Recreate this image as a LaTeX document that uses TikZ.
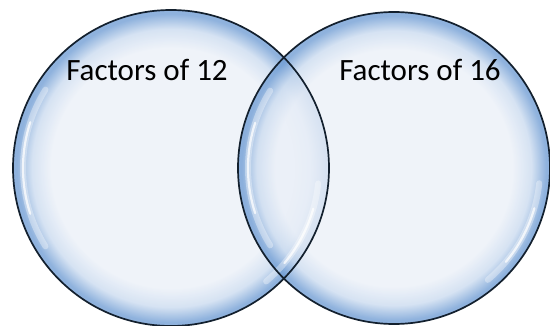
\documentclass[tikz,border=0pt]{standalone}
\usepackage{fontspec}
\setmainfont{Carlito}
\definecolor{bubin}{HTML}{EBF0F8}
\definecolor{bubmid}{HTML}{CCDCF0}
\definecolor{bubedge}{HTML}{739FD5}
\definecolor{bubline}{HTML}{13202E}
\pgfdeclareradialshading{bubble}{\pgfpoint{0bp}{0bp}}{%
  color(0bp)=(bubin); color(19bp)=(bubin); color(22bp)=(bubmid);
  color(24.4bp)=(bubedge); color(25bp)=(bubedge); color(50bp)=(bubedge)}
\begin{document}
\begin{tikzpicture}[x=1pt,y=-1pt,
  bubblefill/.style={shading=bubble, fill opacity=0.8},
  bubbleline/.style={draw=bubline, line width=1.7pt},
  shine/.style={white, line width=6pt, opacity=0.35, line cap=round},
  shinecore/.style={white, line width=2.2pt, opacity=0.75, line cap=round},
  label/.style={font=\fontsize{31}{31}\selectfont, inner sep=0pt, anchor=base}]
\useasboundingbox (0,0) rectangle (550,326);
\node[fill=white, minimum width=550pt, minimum height=326pt, inner sep=0pt, anchor=north west] (bg) at (0,0) {};
\coordinate (cl) at (171,168);
\coordinate (cr) at (394,168);
\path[bubblefill] (cl) circle[radius=158];
\path[bubblefill] (cr) circle[radius=156];
% sheen on left circle
\draw[shine] ([shift={(148:148)}]cl) arc[start angle=148, end angle=212, radius=148];
\draw[shinecore] ([shift={(162:148)}]cl) arc[start angle=162, end angle=198, radius=148];
\draw[shine] ([shift={(6:148)}]cl) arc[start angle=6, end angle=50, radius=148];
\draw[shinecore] ([shift={(16:148)}]cl) arc[start angle=16, end angle=40, radius=148];
% sheen on right circle
\draw[shine] ([shift={(148:146)}]cr) arc[start angle=148, end angle=212, radius=146];
\draw[shinecore] ([shift={(162:146)}]cr) arc[start angle=162, end angle=198, radius=146];
\draw[shine] ([shift={(6:146)}]cr) arc[start angle=6, end angle=50, radius=146];
\draw[shinecore] ([shift={(16:146)}]cr) arc[start angle=16, end angle=40, radius=146];
% outlines
\draw[bubbleline] (cl) circle[radius=158];
\draw[bubbleline] (cr) circle[radius=156];
\node[label] (t12) at (147,81) {Factors of 12};
\node[label] (t16) at (420,81) {Factors of 16};
\end{tikzpicture}
\end{document}
